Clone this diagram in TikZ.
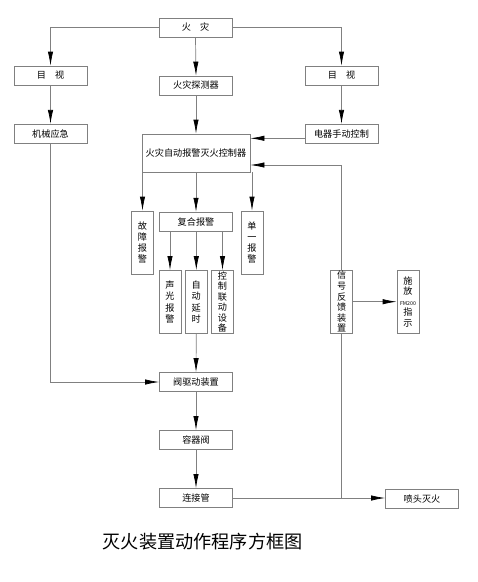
\documentclass[tikz,border=0pt]{standalone}
\usepackage{fontspec}
\newfontfamily\cjk{Noto Sans CJK SC}
\usetikzlibrary{arrows.meta}
\tikzset{blk/.style = {draw=gray, line width=0.6pt, inner sep=0, minimum width=2.19cm,
                       minimum height=0.57cm, font=\cjk\fontsize{7.8}{9}\selectfont}}
\tikzset{vblk/.style = {blk, minimum width=0.66cm, minimum height=1.89cm, align=center}}
\tikzset{arr/.style = {draw=gray, line width=0.6pt,
                       -{Latex[length=0.42cm, width=0.16cm, color=black]}}}
\tikzset{ln/.style = {draw=gray, line width=0.6pt}}

\begin{document}
\begin{tikzpicture}[x=0.03cm, y=-0.03cm]
    \useasboundingbox (0, 0) rectangle (478, 582);

    \node [blk] (fire) at (195.5, 27.5) {火\quad 灾};
    \node [blk] (look1) at (50.5, 75.5) {目\quad 视};
    \node [blk] (det) at (196, 85.5) {火灾探测器};
    \node [blk] (look2) at (341.5, 75.5) {目\quad 视};
    \node [blk] (mech) at (50.5, 133.8) {机械应急};
    \node [blk] (manual) at (341.5, 133.8) {电器手动控制};
    \node [blk, minimum width=3.24cm, minimum height=1.14cm] (ctrl) at (196, 153) {火灾自动报警灭火控制器};

    \node [vblk, font=\cjk\fontsize{7.8}{9.6}\selectfont] (fault) at (142.5, 242.5) {故\\障\\报\\警};
    \node [blk] (combo) at (196, 221.7) {复合报警};
    \node [vblk, font=\cjk\fontsize{7.8}{9.6}\selectfont] (single) at (252, 242.5) {单\\一\\报\\警};

    \node [vblk, font=\cjk\fontsize{7.8}{9.6}\selectfont] (sound) at (170, 302) {声\\光\\报\\警};
    \node [vblk, font=\cjk\fontsize{7.8}{9.6}\selectfont] (delay) at (196.3, 302) {自\\动\\延\\时};
    \node [vblk] (link) at (222.5, 302) {控\\制\\联\\动\\设\\备};

    \node [vblk] (fb) at (341.7, 301.7) {信\\号\\反\\馈\\装\\置};
    \node [vblk] (ind) at (408, 301.7) {施\\放\\{\fontsize{4.5}{5}\selectfont FM200}\\指\\示};

    \node [blk] (valve) at (196, 382) {阀驱动装置};
    \node [blk] (cvalve) at (196, 440) {容器阀};
    \node [blk] (pipe) at (196, 498) {连接管};
    \node [blk] (nozzle) at (422, 499) {喷头灭火};

    \node [font=\cjk\fontsize{15.5}{16}\selectfont] (title) at (202.7, 542) {灭火装置动作程序方框图};

    % top branches
    \draw [arr] (fire.west) -| (look1.north);
    \draw [arr] (fire.east) -| (look2.north);
    \draw [arr] (fire.south) -- (det.north);
    \draw [arr] (look1.south) -- (mech.north);
    \draw [arr] (look2.south) -- (manual.north);
    \draw [arr] (det.south) -- (ctrl.north);
    \coordinate (mp) at ([yshift=-0.135cm]manual.west);
    \draw [arr] (mp) -- (mp -| ctrl.east);

    % controller outputs
    \draw [arr] (fault.north |- ctrl.south) -- (fault.north);
    \draw [arr] (ctrl.south) -- (combo.north);
    \draw [arr] (single.north |- ctrl.south) -- (single.north);
    \draw [arr] (sound.north |- combo.south) -- (sound.north);
    \draw [arr] (delay.north |- combo.south) -- (delay.north);
    \draw [arr] (link.north |- combo.south) -- (link.north);

    % valve chain
    \draw [arr] (delay.south) -- (valve.north);
    \draw [arr] (mech.south) |- (valve.west);
    \draw [arr] (valve.south) -- (cvalve.north);
    \draw [arr] (cvalve.south) -- (pipe.north);
    \draw [arr] (pipe.east) -- (pipe.east -| nozzle.west);

    % feedback
    \draw [arr] (fb.north) |- ([yshift=-0.36cm]ctrl.east);
    \draw [ln] (fb.south) -- (fb.south |- pipe.east);
    \draw [arr] (fb.east) -- (ind.west);
\end{tikzpicture}
\end{document}
